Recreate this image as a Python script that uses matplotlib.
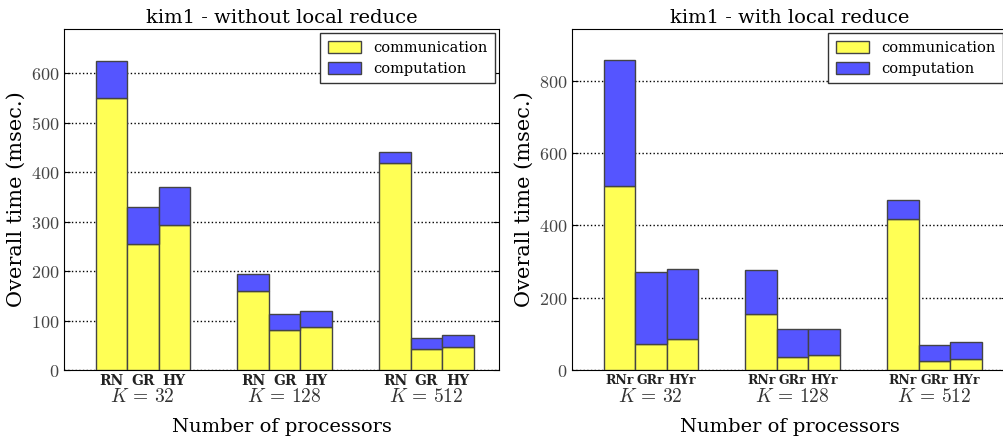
import matplotlib
matplotlib.use("Agg")
import matplotlib.pyplot as plt
import matplotlib.transforms as mtransforms
import numpy as np

plt.rcParams['font.family'] = ['DejaVu Serif']
plt.rcParams['mathtext.fontset'] = 'cm'

groups = [r'$K\,=\,32$', r'$K\,=\,128$', r'$K\,=\,512$']

# without local reduce
labels_l = ['RN', 'GR', 'HY']
comm_l = [550, 254, 292, 159, 81, 86, 419, 42, 47]
total_l = [625, 330, 369, 194, 114, 120, 440, 64, 71]

# with local reduce
labels_r = ['RNr', 'GRr', 'HYr']
comm_r = [510, 73, 85, 154, 37, 41, 418, 26, 31]
total_r = [857, 271, 279, 276, 112, 112, 470, 70, 77]

yellow = '#ffff55'
blue = '#5555ff'


def draw(ax, comm, total, labels, title, ymax, yticks, lab_size):
    comm = np.array(comm)
    comp = np.array(total) - comm
    starts = np.array([1.0, 5.5, 10.0])
    x = np.concatenate([s + np.arange(3) for s in starts])
    ax.bar(x, comm, width=1, align='edge', color=yellow,
           edgecolor='#444444', linewidth=1, label='communication', zorder=3)
    ax.bar(x, comp, width=1, bottom=comm, align='edge', color=blue,
           edgecolor='#444444', linewidth=1, label='computation', zorder=3)
    ax.set_xlim(0, 13.8)
    ax.set_ylim(0, ymax)
    ax.set_yticks(yticks)
    ax.set_yticklabels([r'$%d$' % t for t in yticks], fontsize=13, color='#444444')
    ax.yaxis.grid(True, linestyle=':', color='black', linewidth=1, zorder=0)
    ax.tick_params(axis='y', direction='in', length=4, right=True, pad=3)
    ax.set_xticks([])
    trans = mtransforms.blended_transform_factory(ax.transData, ax.transAxes)
    for i, s in enumerate(starts):
        for j in range(3):
            ax.text(s + j + 0.5, -0.013, labels[j], transform=trans, ha='center',
                    va='top', fontsize=lab_size, fontweight='bold', color='#222222')
        ax.text(s + 1.5, -0.052, groups[i], transform=trans, ha='center',
                va='top', fontsize=14, color='#333333')
    ax.set_title(title, fontsize=14, pad=4)
    ax.set_ylabel('Overall time (msec.)', fontsize=15, labelpad=4)
    ax.text(0.5, -0.167, 'Number of processors', transform=ax.transAxes,
            ha='center', va='center', fontsize=14)
    leg = ax.legend(loc='upper right', fontsize=10.5, fancybox=False,
                    framealpha=1, edgecolor='#333333', borderpad=0.5,
                    handlelength=2.3, handleheight=0.9, borderaxespad=0.3)
    leg.get_frame().set_linewidth(1)
    leg.set_zorder(5)


fig = plt.figure(figsize=(10.04, 4.4), dpi=100)
ax1 = fig.add_axes([64 / 1004, 70 / 440, 435 / 1004, 341 / 440])
ax2 = fig.add_axes([572 / 1004, 70 / 440, 435 / 1004, 341 / 440])

draw(ax1, comm_l, total_l, labels_l, 'kim1 - without local reduce', 689,
     [0, 100, 200, 300, 400, 500, 600], 10)
draw(ax2, comm_r, total_r, labels_r, 'kim1 - with local reduce', 943,
     [0, 200, 400, 600, 800], 9)

fig.savefig('out.png', dpi=100)
